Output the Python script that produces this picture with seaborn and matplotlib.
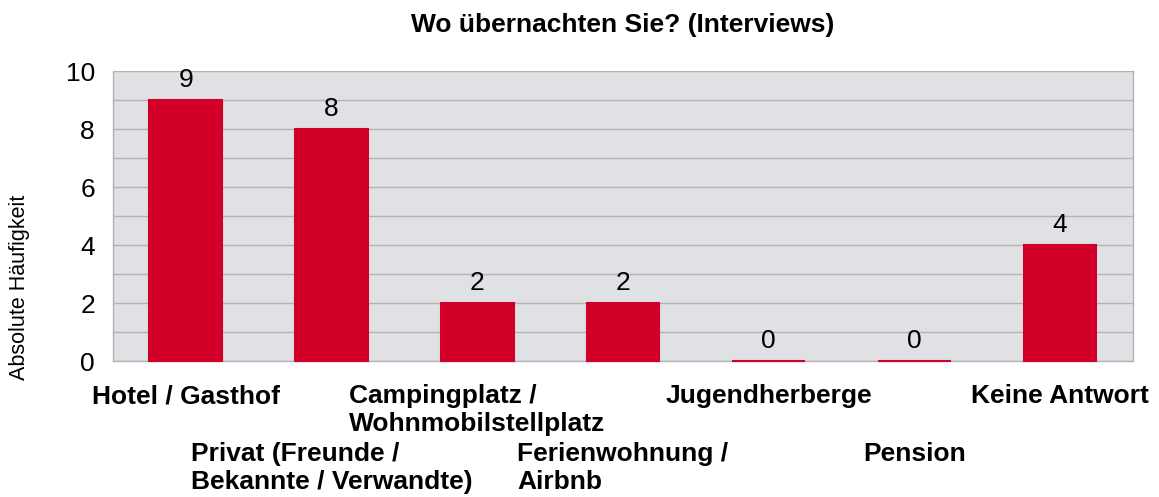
import matplotlib
matplotlib.use("Agg")
import matplotlib.pyplot as plt
import matplotlib.transforms as mtransforms
from matplotlib.ticker import MultipleLocator, FixedLocator
import numpy as np
import pandas as pd
import seaborn as sns

# data
categories = [
    "Hotel / Gasthof",
    "Privat (Freunde /\nBekannte / Verwandte)",
    "Campingplatz /\nWohnmobilstellplatz",
    "Ferienwohnung /\nAirbnb",
    "Jugendherberge",
    "Pension",
    "Keine Antwort",
]
counts = [9, 8, 2, 2, 0, 0, 4]

bar_color = "#d20029"
bg_color = "#e0e1e5"
grid_color = "#b3b3b3"

sns.set_style("white")
plt.rcParams["font.family"] = ["Liberation Sans", "DejaVu Sans"]
plt.rcParams["text.color"] = "black"
plt.rcParams["xtick.color"] = "black"
plt.rcParams["ytick.color"] = "black"
plt.rcParams["axes.labelcolor"] = "black"

df = pd.DataFrame({"category": categories, "count": counts})

fig = plt.figure(figsize=(11.59, 4.97), dpi=100)
ax = fig.add_axes([0.0975, 0.2736, 0.88, 0.5835])
ax.set_facecolor(bg_color)

sns.barplot(data=df, x="category", y="count", color=bar_color, width=0.5,
            saturation=1, edgecolor=bar_color, linewidth=1.5, ax=ax, zorder=3)
for p in ax.patches:
    p.set_clip_on(False)

ax.set_ylim(0, 10)
ax.set_xlim(-0.5, len(categories) - 0.5)
ax.yaxis.set_major_locator(MultipleLocator(2))
ax.yaxis.set_minor_locator(MultipleLocator(1))
ax.grid(axis="y", which="both", color=grid_color, linewidth=1, zorder=0)
ax.set_axisbelow(True)

for side in ["left", "bottom", "right"]:
    ax.spines[side].set_color(grid_color)
    ax.spines[side].set_linewidth(1)
ax.spines["top"].set_visible(False)

# value labels
for i, v in enumerate(counts):
    ax.annotate(str(v), (i, v), xytext=(0, 6), textcoords="offset points",
                ha="center", va="bottom", fontsize=19)

# staggered category labels (two rows), ticks at the boundaries
ax.set_xticks(range(len(categories)))
ax.set_xticklabels([])
ax.tick_params(axis="x", which="major", length=0)
for i, c in enumerate(categories):
    dy = -23 if i % 2 == 0 else -81
    tr = mtransforms.offset_copy(ax.get_xaxis_transform(), fig=fig,
                                 x=0, y=dy, units="dots")
    ax.text(i, 0, c, transform=tr, ha="center", va="top",
            multialignment="left", linespacing=1.2,
            fontsize=19, fontweight="bold")
ax.xaxis.set_minor_locator(FixedLocator(np.arange(-0.5, len(categories), 1)))
ax.tick_params(axis="x", which="minor", length=9, color=grid_color, width=1)

ax.tick_params(axis="y", which="major", length=9, color=grid_color, width=1,
               labelsize=19, labelcolor="black", pad=4)
ax.tick_params(axis="y", which="minor", length=0)

ax.set_xlabel("")
ax.set_ylabel("Absolute Häufigkeit", fontsize=15.5)
ax.yaxis.set_label_coords(-0.081, 0.255)
ax.set_title("Wo übernachten Sie? (Interviews)", fontsize=19,
             fontweight="bold", pad=28)

fig.savefig("out.png", dpi=100)
